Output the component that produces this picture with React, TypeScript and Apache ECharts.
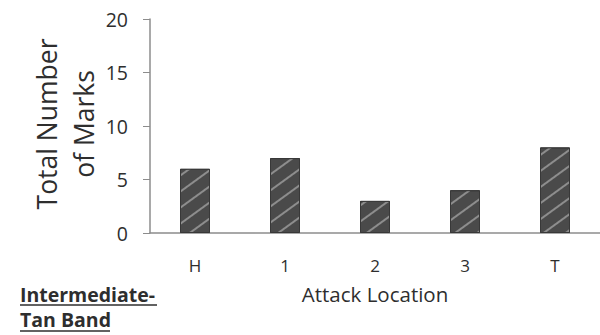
import React, { useEffect, useRef } from "react";
import * as echarts from "echarts";

const categories = ["H", "1", "2", "3", "T"];
const marks = [6, 7, 3, 4, 8];
const yTicks = { min: 0, max: 20, interval: 5 };
const yAxisTitle = "Total Number\nof Marks";
const xAxisTitle = "Attack Location";
const panelLabel = ["Intermediate-", "Tan Band"];

export default function App() {
  const ref = useRef<HTMLDivElement>(null);
  useEffect(() => {
    document.body.style.margin = "0";
    const chart = echarts.init(ref.current!, null, { renderer: "svg" });
    const font = "'Open Sans', sans-serif";
    chart.setOption({
      animation: false,
      backgroundColor: "#ffffff",
      grid: { left: 150, right: -4, top: 19, bottom: 102, containLabel: false },
      xAxis: {
        type: "category",
        data: categories,
        axisLine: { show: true, lineStyle: { color: "#8c8c8c", width: 1.5 } },
        axisTick: { show: false },
        axisLabel: { color: "#2e2e2e", fontSize: 17, fontFamily: font, margin: 24 },
        name: xAxisTitle,
        nameLocation: "middle",
        nameGap: 50,
        nameTextStyle: { color: "#2e2e2e", fontSize: 20.5, fontFamily: font },
      },
      yAxis: {
        type: "value",
        min: yTicks.min,
        max: yTicks.max,
        interval: yTicks.interval,
        splitLine: { show: false },
        axisLine: { show: true, lineStyle: { color: "#8c8c8c", width: 1.5 } },
        axisTick: { show: true, inside: false, length: 7, lineStyle: { color: "#8c8c8c" } },
        axisLabel: { color: "#2e2e2e", fontSize: 19.5, fontFamily: font, margin: 22 },
      },
      series: [
        {
          type: "bar",
          data: marks,
          barWidth: 30,
          itemStyle: {
            color: "#4a4a4a",
            borderColor: "#383838",
            borderWidth: 1,
            decal: {
              symbol: "rect",
              symbolSize: 1,
              dashArrayX: [1, 0],
              dashArrayY: [1.5, 11],
              rotation: -Math.PI / 5,
              color: "rgba(170,170,170,0.7)",
            },
          },
        },
      ],
      graphic: [
        {
          type: "text",
          x: 65,
          y: 124,
          rotation: Math.PI / 2,
          style: {
            text: yAxisTitle,
            fill: "#2e2e2e",
            fontSize: 26.5,
            fontFamily: font,
            lineHeight: 37,
            align: "center",
            verticalAlign: "middle",
          },
        },
        {
          type: "text",
          x: 20,
          y: 294,
          style: {
            text: panelLabel[0],
            fill: "#2e2e2e",
            fontSize: 19.5,
            fontWeight: "bold",
            fontFamily: font,
            align: "left",
            verticalAlign: "middle",
          },
        },
        {
          type: "line",
          shape: { x1: 20, y1: 305, x2: 157, y2: 305 },
          style: { stroke: "#2e2e2e", lineWidth: 1.5 },
        },
        {
          type: "text",
          x: 20,
          y: 319,
          style: {
            text: panelLabel[1],
            fill: "#2e2e2e",
            fontSize: 19.5,
            fontWeight: "bold",
            fontFamily: font,
            align: "left",
            verticalAlign: "middle",
          },
        },
        {
          type: "line",
          shape: { x1: 20, y1: 331, x2: 110, y2: 331 },
          style: { stroke: "#2e2e2e", lineWidth: 1.5 },
        },
      ],
    });
    return () => chart.dispose();
  }, []);
  return <div ref={ref} style={{ width: 600, height: 335 }} />;
}
